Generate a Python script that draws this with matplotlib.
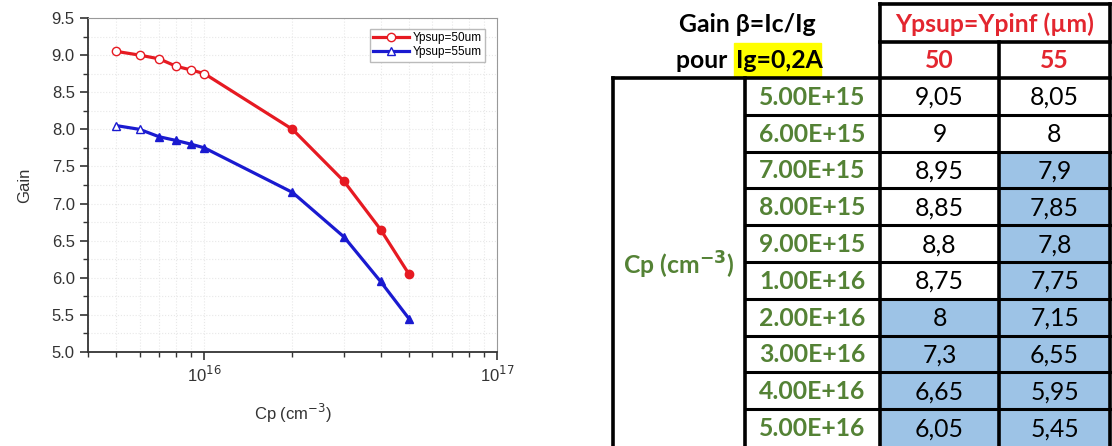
import numpy as np
import matplotlib.pyplot as plt
from matplotlib.patches import Rectangle

# data
cp = [5e15, 6e15, 7e15, 8e15, 9e15, 1e16, 2e16, 3e16, 4e16, 5e16]
cp_labels = ['5.00E+15', '6.00E+15', '7.00E+15', '8.00E+15', '9.00E+15',
             '1.00E+16', '2.00E+16', '3.00E+16', '4.00E+16', '5.00E+16']
gain_50 = [9.05, 9.0, 8.95, 8.85, 8.8, 8.75, 8.0, 7.3, 6.65, 6.05]
gain_55 = [8.05, 8.0, 7.9, 7.85, 7.8, 7.75, 7.15, 6.55, 5.95, 5.45]
gain_50_txt = ['9,05', '9', '8,95', '8,85', '8,8', '8,75', '8', '7,3', '6,65', '6,05']
gain_55_txt = ['8,05', '8', '7,9', '7,85', '7,8', '7,75', '7,15', '6,55', '5,95', '5,45']
widths = ['50', '55']

# first n points drawn open / unshaded
n_open = [6, 2]

red = '#e61a22'
blue = '#1a1ad0'
green = '#548235'
hred = '#e3262f'
shade = '#9dc3e6'

plt.rcParams['font.family'] = ['Liberation Sans', 'DejaVu Sans']
fig = plt.figure(figsize=(11.12, 4.46), dpi=100)

# ---- chart ----
ax = fig.add_axes([88/1112, 1-352/446, 409/1112, 334/446])
for g, c, m, n, lab in [(gain_50, red, 'o', n_open[0], 'Ypsup=50um'),
                        (gain_55, blue, '^', n_open[1], 'Ypsup=55um')]:
    ax.plot(cp, g, color=c, lw=2.3, zorder=3, label=lab,
            marker=m, ms=6, mfc='white', mec=c, markevery=list(range(n)))
    ax.plot(cp[n:], g[n:], ls='none', marker=m, ms=6, color=c, zorder=4)

ax.set_xscale('log')
ax.set_xlim(4e15, 1e17)
ax.set_ylim(5.0, 9.5)
ax.set_yticks(np.arange(5.0, 9.51, 0.5))
ax.set_yticks(np.arange(5.25, 9.5, 0.5), minor=True)
ax.set_xticks([1e16, 1e17])
ax.set_xticklabels(['10$^{16}$', '10$^{17}$'])
ax.grid(True, which='both', color='#e8e8e8', ls=':', lw=0.8)
ax.tick_params(which='both', direction='out', colors='#333333', labelsize=12)
ax.tick_params(which='major', length=6, width=1.2)
ax.tick_params(which='minor', length=3.5, width=1)
for s in ['left', 'bottom']:
    ax.spines[s].set_color('#333333')
    ax.spines[s].set_linewidth(1.3)
for s in ['top', 'right']:
    ax.spines[s].set_color('#999999')
ax.set_xlabel('Cp (cm$^{-3}$)', fontsize=12, color='#333333', labelpad=12)
ax.set_ylabel('Gain', fontsize=12, color='#333333', labelpad=14)
leg = ax.legend(loc='upper right', fontsize=8.5, handlelength=3, borderpad=0.3,
                labelspacing=0.15, fancybox=False, edgecolor='#bbbbbb',
                framealpha=1, bbox_to_anchor=(0.985, 0.985), handletextpad=0.3)

# ---- table ----
tb = fig.add_axes([0, 0, 1, 1])
tb.set_xlim(0, 1112)
tb.set_ylim(446, 0)
tb.axis('off')

x0, x1, x2, x3, x4 = 613, 745, 880, 999, 1110
y_top, y_h1, y_h2 = 4, 42, 78
rh = 36.8
fs = 17.8
tfont = ['Lato', 'DejaVu Sans']

for i in range(len(cp_labels)):
    yt = y_h2 + i * rh
    yc = yt + rh / 2 + 1
    if i >= n_open[0]:
        tb.add_patch(Rectangle((x2, yt), x3 - x2, rh, color=shade, zorder=1))
    if i >= n_open[1]:
        tb.add_patch(Rectangle((x3, yt), x4 - x3, rh, color=shade, zorder=1))
    tb.text((x1 + x2) / 2, yc, cp_labels[i], color=green, fontsize=fs,
            fontweight='bold', ha='center', va='center', family=tfont)
    tb.text((x2 + x3) / 2, yc, gain_50_txt[i], color='black', fontsize=fs,
            ha='center', va='center', family=tfont)
    tb.text((x3 + x4) / 2, yc, gain_55_txt[i], color='black', fontsize=fs,
            ha='center', va='center', family=tfont)
    if i > 0:
        tb.plot([x1, x4], [yt, yt], color='black', lw=2.2, zorder=3)

lw = 2.6
tb.plot([x0, x4], [y_h2, y_h2], color='black', lw=lw, zorder=3)
tb.plot([x2, x4], [y_top, y_top], color='black', lw=lw, zorder=3)
tb.plot([x2, x4], [y_h1, y_h1], color='black', lw=lw, zorder=3)
tb.plot([x0, x0], [y_h2, 446], color='black', lw=lw, zorder=3)
tb.plot([x1, x1], [y_h2, 446], color='black', lw=lw, zorder=3)
tb.plot([x2, x2], [y_top, 446], color='black', lw=lw, zorder=3)
tb.plot([x3, x3], [y_h1, 446], color='black', lw=lw, zorder=3)
tb.plot([x4, x4], [y_top, 446], color='black', lw=lw, zorder=3)

tb.text((x2 + x4) / 2, (y_top + y_h1) / 2 + 1, 'Ypsup=Ypinf (µm)', color=hred,
        fontsize=fs, fontweight='bold', ha='center', va='center', family=tfont)
tb.text((x2 + x3) / 2, (y_h1 + y_h2) / 2 + 1, widths[0], color=hred,
        fontsize=fs, fontweight='bold', ha='center', va='center', family=tfont)
tb.text((x3 + x4) / 2, (y_h1 + y_h2) / 2 + 1, widths[1], color=hred,
        fontsize=fs, fontweight='bold', ha='center', va='center', family=tfont)

tb.text(747, 24, 'Gain β=Ic/Ig', color='black', fontsize=fs, fontweight='bold',
        ha='center', va='center', family=tfont)
tb.text(733, 61, 'pour ', color='black', fontsize=fs, fontweight='bold',
        ha='right', va='center', family=tfont)
tb.add_patch(Rectangle((734, 43), 87, 34, color='#ffff00', zorder=1))
tb.text(736, 61, 'Ig=0,2A', color='black', fontsize=fs, fontweight='bold',
        ha='left', va='center', family=tfont, zorder=2)

tb.text(679, 265, 'Cp (cm$^{\\mathbf{-3}}$)', color=green, fontsize=fs,
        fontweight='bold', ha='center', va='center', family=tfont)

fig.savefig('out.png', dpi=100)
